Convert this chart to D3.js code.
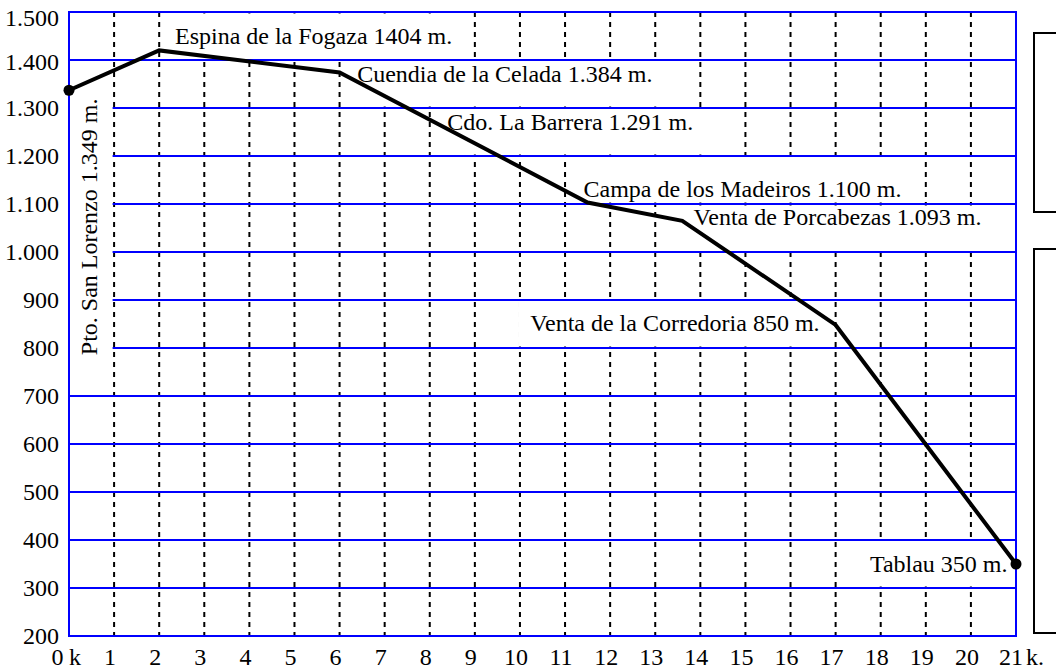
<!DOCTYPE html>
<html><head><meta charset="utf-8">
<script src="https://cdn.jsdelivr.net/npm/d3@7"></script>
<style>
html,body{margin:0;padding:0;background:#fff;}
svg text{font-family:"Liberation Serif","Times New Roman",serif;fill:#000;}
</style></head>
<body>
<svg id="chart" width="1056" height="670" xmlns="http://www.w3.org/2000/svg"></svg>
<script>
// ---- data ----
const profileKm   = [0, 2, 6, 11.5, 13.6, 17, 21];
const profileElev = [1337, 1420, 1374, 1103, 1065, 848, 350];
const xTicks      = [0,1,2,3,4,5,6,7,8,9,10,11,12,13,14,15,16,17,18,19,20,21];
const yTicks      = [200,300,400,500,600,700,800,900,1000,1100,1200,1300,1400,1500];
const labelTexts  = ["Espina de la Fogaza 1404 m.","Cuendia de la Celada 1.384 m.","Cdo. La Barrera 1.291 m.","Campa de los Madeiros 1.100 m.","Venta de Porcabezas 1.093 m.","Venta de la Corredoria 850 m.","Tablau 350 m."];
const labelKm     = [2.35, 6.39, 8.39, 11.41, 13.85, 10.23, 17.76];
const labelElev   = [1433, 1354, 1254, 1115, 1056, 835, 333];
const startLabel  = "Pto. San Lorenzo 1.349 m.";
const startLabelKm = 0.62, startLabelElev = 785;

const svg = d3.select("#chart");
const W = 1056, H = 670;
const FS = 24;

const x = d3.scaleLinear().domain([0,21]).range([69,1016]);
const y = d3.scaleLinear().domain([200,1500]).range([636,12]);
const fmt = d3.formatLocale({decimal:",", thousands:".", grouping:[3], currency:["",""]}).format(",d");

// approximate Times widths (em) for sizing the white label backgrounds
const widthEm = {" ":0.25,".":0.25,"0":0.5,"1":0.5,"2":0.5,"3":0.5,"4":0.5,"5":0.5,"6":0.5,"7":0.5,"8":0.5,"9":0.5,
  a:0.444,b:0.5,c:0.444,d:0.5,e:0.444,f:0.333,g:0.5,h:0.5,i:0.278,j:0.278,k:0.5,l:0.278,m:0.778,n:0.5,o:0.5,p:0.5,q:0.5,r:0.333,s:0.389,t:0.278,u:0.5,v:0.5,w:0.722,x:0.5,y:0.5,z:0.444,
  B:0.667,C:0.667,E:0.611,F:0.556,L:0.611,M:0.889,P:0.556,S:0.556,T:0.611,V:0.722};
const textW = t => Array.from(t).reduce((s,c)=>s+(widthEm[c]||0.5),0)*FS;

// white backgrounds: each fills the grid band of its label
const boxes = labelTexts.map((t,i)=>{
  const tx = x(labelKm[i]);
  const lo = Math.floor(labelElev[i]/100)*100;
  return {x0: tx-12, x1: Math.min(tx+textW(t)+10, x(21)-1), y0: y(lo+100), y1: y(lo)};
});
boxes.push({x0: x(0)+1, x1: x(1)-1.5, y0: y(1400), y1: y(700)});

svg.append("rect").attr("width",W).attr("height",H).style("fill","#ffffff");

// vertical dashed grid
svg.append("g").selectAll("line").data(xTicks.filter(k=>k>0 && k<21)).join("line")
  .attr("x1",d=>x(d)).attr("x2",d=>x(d)).attr("y1",y(1500)).attr("y2",y(200))
  .style("stroke","#000").style("stroke-width",2).style("stroke-dasharray","5,5");

// horizontal blue grid
svg.append("g").selectAll("line").data(yTicks.filter(v=>v>200 && v<1500)).join("line")
  .attr("x1",x(0)).attr("x2",x(21)).attr("y1",d=>y(d)).attr("y2",d=>y(d))
  .style("stroke","#0000ff").style("stroke-width",2);

// label backgrounds
svg.append("g").selectAll("rect").data(boxes).join("rect")
  .attr("x",d=>d.x0).attr("y",d=>d.y0+1.5).attr("width",d=>d.x1-d.x0).attr("height",d=>d.y1-d.y0-3)
  .style("fill","#ffffff");

// frame
svg.append("rect").attr("x",x(0)).attr("y",y(1500)).attr("width",x(21)-x(0)).attr("height",y(200)-y(1500))
  .style("fill","none").style("stroke","#0000ff").style("stroke-width",2);

// profile
const pts = profileKm.map((k,i)=>[k,profileElev[i]]);
svg.append("path").datum(pts)
  .attr("d",d3.line().x(d=>x(d[0])).y(d=>y(d[1])))
  .style("fill","none").style("stroke","#000").style("stroke-width",4);
svg.append("g").selectAll("circle").data([pts[0],pts[pts.length-1]]).join("circle")
  .attr("cx",d=>x(d[0])).attr("cy",d=>y(d[1])).attr("r",5.5).style("fill","#000");

// labels
svg.append("g").selectAll("text").data(labelTexts).join("text")
  .attr("x",(d,i)=>x(labelKm[i])).attr("y",(d,i)=>y(labelElev[i])).attr("font-size",FS).text(d=>d);
svg.append("text").attr("transform",`translate(${x(startLabelKm)},${y(startLabelElev)}) rotate(-90)`)
  .attr("font-size",FS).text(startLabel);

// y tick labels
svg.append("g").selectAll("text").data(yTicks).join("text")
  .attr("x",59).attr("y",d=>y(d)+(d===1500?14:d===1400?10:8))
  .attr("text-anchor","end").attr("font-size",FS).text(d=>fmt(d));

// x tick labels
const xl = svg.append("g");
xTicks.forEach(k=>{
  if(k===0){
    xl.append("text").attr("x",x(0)-11.5).attr("y",665).attr("text-anchor","middle").attr("font-size",FS).text(String(k));
    xl.append("text").attr("x",x(0)).attr("y",665).attr("font-size",FS).text("k");
  } else if(k===21){
    xl.append("text").attr("x",x(21)-5).attr("y",665).attr("text-anchor","middle").attr("font-size",FS).text(String(k));
    xl.append("text").attr("x",x(21)+10).attr("y",665).attr("font-size",FS).text("k.");
  } else {
    xl.append("text").attr("x",x(k)-4).attr("y",665).attr("text-anchor","middle").attr("font-size",FS).text(String(k));
  }
});

// cropped side panels
svg.append("rect").attr("x",1034).attr("y",33).attr("width",40).attr("height",179)
  .style("fill","#ffffff").style("stroke","#000").style("stroke-width",2);
svg.append("rect").attr("x",1034).attr("y",249).attr("width",40).attr("height",384)
  .style("fill","#ffffff").style("stroke","#000").style("stroke-width",2);
</script>
</body></html>
